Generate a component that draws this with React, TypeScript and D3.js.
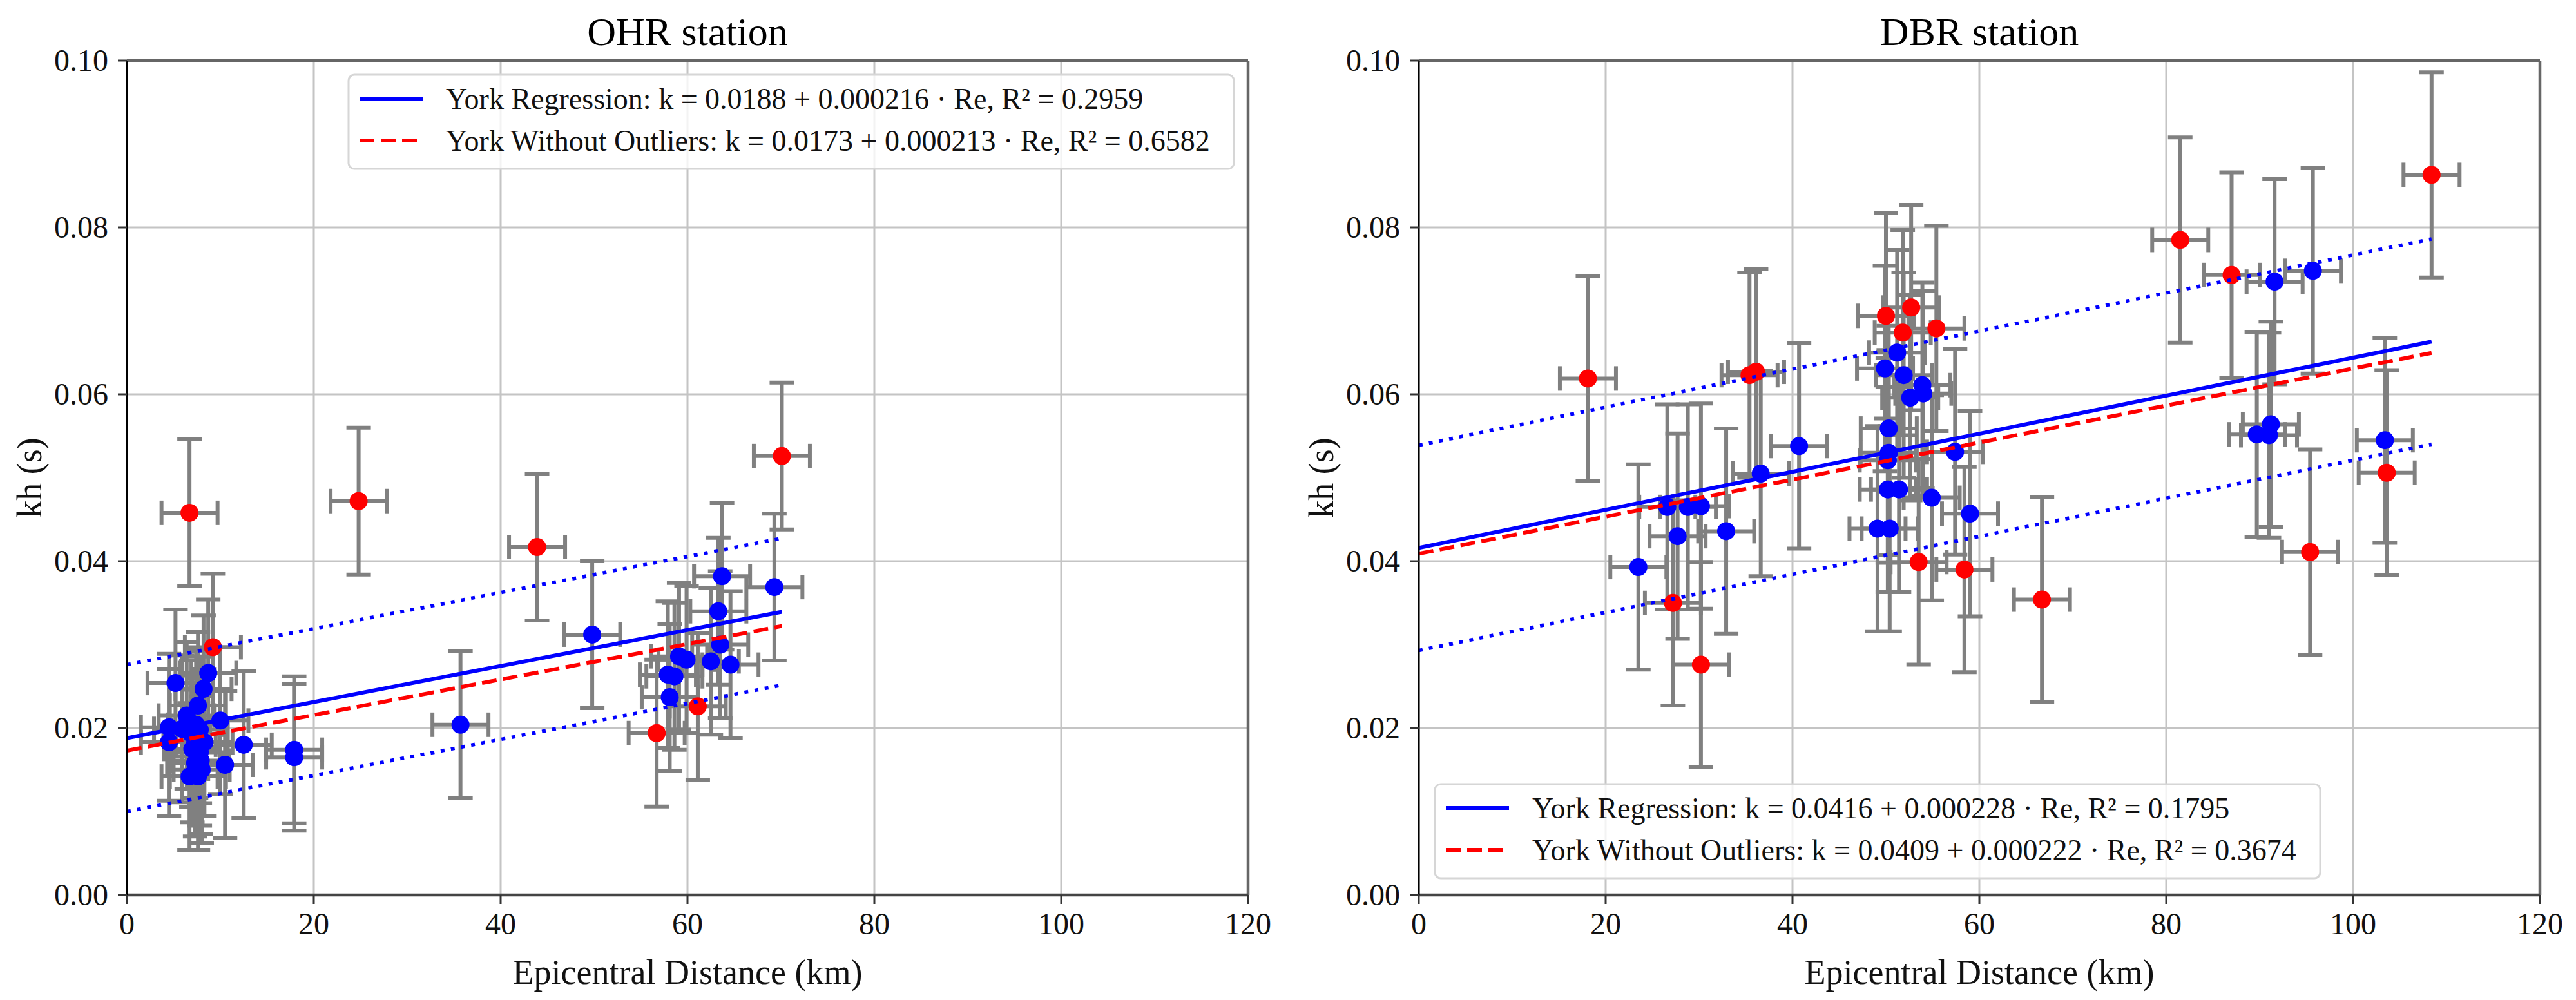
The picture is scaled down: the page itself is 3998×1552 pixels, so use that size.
import React from 'react';
import * as d3 from 'd3';

const W = 3998;
const H = 1552;
const FONT = 'Liberation Serif, DejaVu Serif, serif';

// shared axes
const xTicks = [0, 20, 40, 60, 80, 100, 120];
const yTicks = [0, 0.02, 0.04, 0.06, 0.08, 0.1];

// OHR station
const ohrBlueX = [5.2, 8.7, 8.2, 7.6, 6.4, 10.0, 4.5, 7.4, 6.9, 5.9, 7.8, 4.5, 8.3, 12.5, 7.8, 7.0, 7.9, 10.5, 6.7, 7.6, 7.3, 8.0,
  17.9, 17.9, 35.7, 49.8, 57.9, 58.6, 58.1, 59.1, 59.9, 62.5, 63.5, 63.3, 63.7, 64.6, 69.3];
const ohrBlueY = [0.0254, 0.0266, 0.0247, 0.0227, 0.0215, 0.0209, 0.0201, 0.0204, 0.0193, 0.0199, 0.0198, 0.0183, 0.0183, 0.0180, 0.0171, 0.0175, 0.0161, 0.0156, 0.0142, 0.0142, 0.0158, 0.0150,
  0.0174, 0.0165, 0.0204, 0.0312, 0.0264, 0.0262, 0.0237, 0.0286, 0.0282, 0.0280, 0.0300, 0.0340, 0.0382, 0.0276, 0.0369];
const ohrRedX = [6.7, 9.2, 24.8, 43.9, 56.7, 61.1, 70.1];
const ohrRedY = [0.0458, 0.0297, 0.0472, 0.0417, 0.0194, 0.0226, 0.0526];
const ohrErrX = 3.0;
const ohrErrY = 0.0088;
const ohrFit = [0.0188, 0.000216];
const ohrFitClean = [0.0173, 0.000213];
const ohrLegend = [
  'York Regression: k = 0.0188 + 0.000216 · Re, R² = 0.2959',
  'York Without Outliers: k = 0.0173 + 0.000213 · Re, R² = 0.6582',
];

// DBR station
const dbrBlueX = [23.5, 26.6, 27.7, 28.8, 30.2, 32.9, 36.6, 40.7, 49.1, 50.4, 49.9, 50.3, 50.3, 50.2, 50.2, 51.4, 51.2, 51.9, 52.6, 53.9, 54.0, 54.9, 57.4, 59.0,
  89.7, 91.0, 91.2, 91.6, 95.7, 103.4];
const dbrBlueY = [0.0393, 0.0465, 0.0430, 0.0465, 0.0466, 0.0436, 0.0505, 0.0538, 0.0439, 0.0439, 0.0631, 0.0559, 0.0530, 0.0521, 0.0486, 0.0486, 0.0650, 0.0623, 0.0596, 0.0611, 0.0601, 0.0476, 0.0531, 0.0457,
  0.0552, 0.0551, 0.0564, 0.0735, 0.0748, 0.0545];
const dbrRedX = [18.1, 27.2, 30.2, 35.4, 36.1, 50.0, 51.8, 52.7, 55.4, 53.5, 58.4, 66.7, 81.5, 87.0, 95.4, 103.6, 108.4];
const dbrRedY = [0.0619, 0.0350, 0.0276, 0.0623, 0.0627, 0.0694, 0.0674, 0.0704, 0.0679, 0.0399, 0.0390, 0.0354, 0.0785, 0.0743, 0.0411, 0.0506, 0.0863];
const dbrErrX = 3.0;
const dbrErrY = 0.0123;
const dbrFit = [0.0416, 0.000228];
const dbrFitClean = [0.0409, 0.000222];
const dbrLegend = [
  'York Regression: k = 0.0416 + 0.000228 · Re, R² = 0.1795',
  'York Without Outliers: k = 0.0409 + 0.000222 · Re, R² = 0.3674',
];

const TOP = 94;
const BOTTOM = 1389;
const PW = 1740;

interface PanelProps {
  x0: number;
  title: string;
  blueX: number[];
  blueY: number[];
  redX: number[];
  redY: number[];
  errX: number;
  errY: number;
  fit: number[];
  fitClean: number[];
  legend: string[];
  legendX: number;
  legendY: number;
}

const Panel: React.FC<PanelProps> = ({ x0, title, blueX, blueY, redX, redY, errX, errY, fit, fitClean, legend, legendX, legendY }) => {
  const x = d3.scaleLinear().domain([0, 120]).range([x0, x0 + PW]);
  const y = d3.scaleLinear().domain([0, 0.1]).range([BOTTOM, TOP]);

  const xmax = d3.max(blueX.concat(redX)) as number;
  const span = [0, xmax];
  const line = d3.line<number>().x(d => x(d));
  const fitPath = (c: number[], off = 0) => line.y(d => y(c[0] + c[1] * d + off))(span) as string;

  const pts = [
    ...blueX.map((v, i) => ({ x: v, y: blueY[i], c: '#0000ff' })),
    ...redX.map((v, i) => ({ x: v, y: redY[i], c: '#ff0000' })),
  ];
  const cap = 19;
  const gray = '#808080';
  const txt = { fontFamily: FONT };

  return (
    <g>
      <defs>
        <clipPath id={`clip-${x0}`}>
          <rect x={x0} y={TOP} width={PW} height={BOTTOM - TOP} />
        </clipPath>
      </defs>
      {/* grid */}
      {xTicks.map(t => (
        <line key={'gx' + t} x1={x(t)} x2={x(t)} y1={TOP} y2={BOTTOM} stroke="#c4c4c4" strokeWidth={3} />
      ))}
      {yTicks.map(t => (
        <line key={'gy' + t} x1={x0} x2={x0 + PW} y1={y(t)} y2={y(t)} stroke="#c4c4c4" strokeWidth={3} />
      ))}

      <g clipPath={`url(#clip-${x0})`}>
        {/* error bars */}
        {pts.map((p, i) => (
          <g key={'e' + i} stroke={gray} strokeWidth={6} fill="none">
            <line x1={x(p.x)} x2={x(p.x)} y1={y(p.y - errY)} y2={y(p.y + errY)} />
            <line x1={x(p.x - errX)} x2={x(p.x + errX)} y1={y(p.y)} y2={y(p.y)} />
            <line x1={x(p.x) - cap} x2={x(p.x) + cap} y1={y(p.y - errY)} y2={y(p.y - errY)} />
            <line x1={x(p.x) - cap} x2={x(p.x) + cap} y1={y(p.y + errY)} y2={y(p.y + errY)} />
            <line x1={x(p.x - errX)} x2={x(p.x - errX)} y1={y(p.y) - cap} y2={y(p.y) + cap} />
            <line x1={x(p.x + errX)} x2={x(p.x + errX)} y1={y(p.y) - cap} y2={y(p.y) + cap} />
          </g>
        ))}
        {pts.map((p, i) => (
          <circle key={'m' + i} cx={x(p.x)} cy={y(p.y)} r={14} fill={p.c} />
        ))}

        {/* fit lines */}
        <path d={fitPath(fit, errY)} stroke="#0000ff" strokeWidth={5.5} fill="none" strokeDasharray="6 10" />
        <path d={fitPath(fit, -errY)} stroke="#0000ff" strokeWidth={5.5} fill="none" strokeDasharray="6 10" />
        <path d={fitPath(fit)} stroke="#0000ff" strokeWidth={6} fill="none" />
        <path d={fitPath(fitClean)} stroke="#ff0000" strokeWidth={6} fill="none" strokeDasharray="23 10" />
      </g>

      {/* spines */}
      <line x1={x0} x2={x0 + PW} y1={TOP} y2={TOP} stroke="#666" strokeWidth={4.5} />
      <line x1={x0 + PW} x2={x0 + PW} y1={TOP} y2={BOTTOM} stroke="#666" strokeWidth={4.5} />
      <line x1={x0} x2={x0 + PW} y1={BOTTOM} y2={BOTTOM} stroke="#444" strokeWidth={4.5} />
      <line x1={x0} x2={x0} y1={TOP} y2={BOTTOM} stroke="#000" strokeWidth={3} />

      {/* ticks */}
      {xTicks.map(t => (
        <g key={'tx' + t}>
          <line x1={x(t)} x2={x(t)} y1={BOTTOM} y2={BOTTOM + 14} stroke="#333" strokeWidth={3} />
          <text x={x(t)} y={1450} textAnchor="middle" fontSize={48} style={txt} fill="#111">{t}</text>
        </g>
      ))}
      {yTicks.map(t => (
        <g key={'ty' + t}>
          <line x1={x0 - 14} x2={x0} y1={y(t)} y2={y(t)} stroke="#333" strokeWidth={3} />
          <text x={x0 - 29} y={y(t) + 16} textAnchor="end" fontSize={48} style={txt} fill="#111">{d3.format('.2f')(t)}</text>
        </g>
      ))}

      {/* labels */}
      <text x={x0 + PW / 2} y={70} textAnchor="middle" fontSize={62} style={txt} fill="#000">{title}</text>
      <text x={x0 + PW / 2} y={1527} textAnchor="middle" fontSize={54} style={txt} fill="#111">Epicentral Distance (km)</text>
      <text transform={`translate(${x0 - 133},${(TOP + BOTTOM) / 2}) rotate(-90)`} textAnchor="middle" fontSize={54} style={txt} fill="#111">kh (s)</text>

      {/* legend */}
      <g transform={`translate(${legendX},${legendY})`}>
        <rect x={0} y={0} width={1374} height={146} rx={9} fill="#fff" fillOpacity={0.8} stroke="#d6d6d6" strokeWidth={3} />
        <line x1={17} x2={115} y1={37} y2={37} stroke="#0000ff" strokeWidth={6} />
        <line x1={17} x2={115} y1={102} y2={102} stroke="#ff0000" strokeWidth={6} strokeDasharray="23 10" />
        <text x={151} y={53} fontSize={46} style={txt} fill="#111">{legend[0]}</text>
        <text x={151} y={118} fontSize={46} style={txt} fill="#111">{legend[1]}</text>
      </g>
    </g>
  );
};

export default function App() {
  return (
    <svg width={W} height={H} viewBox={`0 0 ${W} ${H}`} style={{ position: 'absolute', left: 0, top: 0, background: '#fff' }}>
      <rect width={W} height={H} fill="#fff" />
      <Panel x0={197} title="OHR station" blueX={ohrBlueX} blueY={ohrBlueY} redX={ohrRedX} redY={ohrRedY}
        errX={ohrErrX} errY={ohrErrY} fit={ohrFit} fitClean={ohrFitClean} legend={ohrLegend} legendX={541} legendY={116} />
      <Panel x0={2202} title="DBR station" blueX={dbrBlueX} blueY={dbrBlueY} redX={dbrRedX} redY={dbrRedY}
        errX={dbrErrX} errY={dbrErrY} fit={dbrFit} fitClean={dbrFitClean} legend={dbrLegend} legendX={2227} legendY={1217} />
    </svg>
  );
}
